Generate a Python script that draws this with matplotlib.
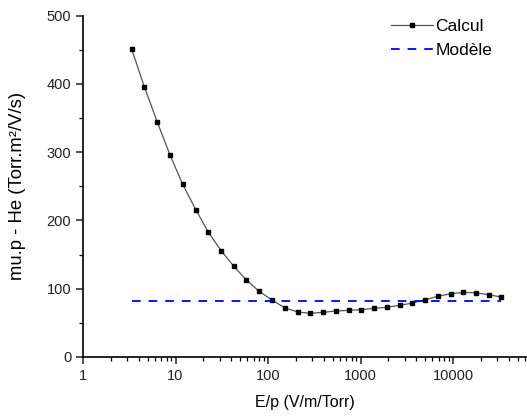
import matplotlib
matplotlib.use('Agg')
import matplotlib.pyplot as plt
from matplotlib.ticker import FixedLocator, NullFormatter, MultipleLocator

# valeurs
ep = [3.36, 4.60, 6.36, 8.72, 11.96, 16.54, 22.63, 31.04, 42.58, 58.29,
      80.5, 110.5, 151.5, 209.5, 286.7, 393.2, 539.4, 742, 1020, 1399,
      1920, 2653, 3631, 4981, 6833, 9443, 12925, 17730, 24320, 33290]
mu_calcul = [451, 396, 344, 296, 253, 216, 183, 156, 133, 113,
             96, 83.5, 72, 66, 64, 65.4, 67.3, 68.4, 69.3, 71.3,
             72.8, 75.7, 79, 83.9, 88.9, 92.7, 94.7, 94.1, 91.2, 87.8]
mu_modele = 82
xticks = [1, 10, 100, 1000, 10000]

plt.rcParams['font.family'] = ['Liberation Sans', 'DejaVu Sans']

fig = plt.figure(figsize=(5.27, 4.18), dpi=100)
ax = fig.add_axes([83 / 527, 61 / 418, 444 / 527, 341.3 / 418])

ax.plot(ep, mu_calcul, color='#555555', lw=0.9, marker='s', ms=2.6,
        mfc='black', mec='black', label='Calcul')
ax.plot([ep[0], ep[-1]], [mu_modele, mu_modele], color='blue', lw=1.3,
        dashes=(4.8, 4.4), label='Modèle')

ax.set_xscale('log')
ax.set_xlim(1, 10 ** 4.8)
ax.set_ylim(0, 500)
ax.xaxis.set_major_locator(FixedLocator(xticks))
ax.set_xticklabels([str(t) for t in xticks])
ax.xaxis.set_minor_locator(FixedLocator(
    [m * 10 ** d for d in range(0, 5) for m in range(2, 10)]))
ax.xaxis.set_minor_formatter(NullFormatter())
ax.yaxis.set_major_locator(MultipleLocator(100))
ax.yaxis.set_minor_locator(MultipleLocator(50))

for s in ['top', 'right']:
    ax.spines[s].set_visible(False)
for s in ['left', 'bottom']:
    ax.spines[s].set_linewidth(1.2)
ax.tick_params(which='major', direction='out', length=5, width=1.1,
               labelsize=10.5, colors='#222222')
ax.tick_params(which='minor', direction='out', length=3, width=0.9)

ax.set_xlabel('E/p (V/m/Torr)', fontsize=11.5, labelpad=9)
ax.set_ylabel('mu.p - He (Torr.m²/V/s)', fontsize=13.3, labelpad=15)

leg = ax.legend(loc='upper right', bbox_to_anchor=(0.945, 1.022), frameon=False,
                fontsize=12.5, handlelength=2.4, handletextpad=0.15,
                labelspacing=0.55, borderaxespad=0.2, numpoints=1)

fig.savefig('out.png', dpi=100, facecolor='white')
